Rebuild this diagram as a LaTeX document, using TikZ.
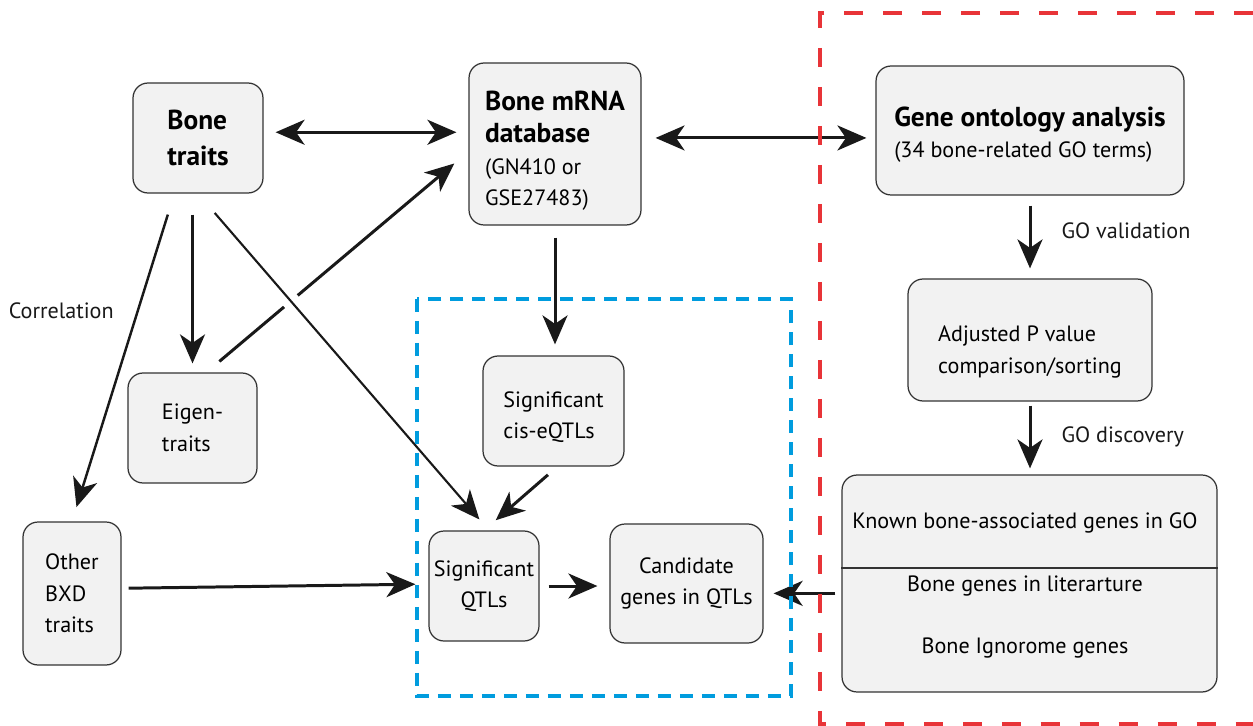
\documentclass[tikz,border=0pt]{standalone}
\usepackage{fontspec}
\setmainfont{PT Sans}
\usetikzlibrary{arrows.meta}
\definecolor{qtlblue}{RGB}{0,156,222}
\definecolor{gored}{RGB}{232,52,56}
\newcommand\bfs{\fontsize{15.6}{19}\selectfont\bfseries}
% push a first line down by adding height above it
\newcommand\lowr[2]{\raisebox{0pt}[\dimexpr\height+#1\relax]{#2}}

\begin{document}
\begin{tikzpicture}[
  x=0.02cm, y=-0.02cm,
  box/.style={draw=black!80, line width=0.7pt, fill=black!5, rounded corners=0.3cm,
    inner sep=0pt, align=left, font=\fontsize{12.6}{18}\selectfont},
  lbl/.style={inner sep=0pt, font=\fontsize{12.6}{18}\selectfont},
  tip/.style={-{Stealth[length=0.58cm, width=0.5cm, inset=0.17cm]}},
  arr/.style={line width=1.7pt, black!90, tip},
  darr/.style={arr, {Stealth[length=0.58cm, width=0.5cm, inset=0.17cm]}-{Stealth[length=0.58cm, width=0.5cm, inset=0.17cm]}}
]
\useasboundingbox (0,0) rectangle (1253,726);

\node [box, minimum width=2.6cm, minimum height=2.2cm, font=\fontsize{15.6}{20.5}\selectfont\bfseries] (bone) at (198,138) {Bone\\traits};
\node [box, minimum width=3.44cm, minimum height=3.24cm] (mrna) at (555,144) {\lowr{0.28cm}{\bfs Bone mRNA}\\{\bfs database}\\(GN410 or\\GSE27483)};
\node [box, minimum width=6.16cm, minimum height=2.58cm] (gonto) at (1030,130.5) {\lowr{0.16cm}{\bfs Gene ontology analysis}\\(34 bone-related GO terms)};
\node [box, minimum width=4.88cm, minimum height=2.44cm] (adjp) at (1030,340) {\lowr{0.48cm}{Adjusted P value}\\comparison/sorting};
\node [box, minimum width=2.58cm, minimum height=2.2cm] (eigen) at (192.5,428) {Eigen-\\traits};
\node [box, minimum width=1.96cm, minimum height=2.86cm] (other) at (72,593.5) {Other\\BXD\\traits};
\node [box, minimum width=2.82cm, minimum height=2.2cm] (cisqtl) at (553.5,411) {\lowr{0.24cm}{Significant}\\cis-eQTLs};
\node [box, minimum width=2.2cm, minimum height=2.2cm, align=center] (sigqtl) at (484,586) {Significant\\QTLs};
\node [box, minimum width=3.06cm, minimum height=2.38cm, align=center] (cand) at (686.5,583.5) {Candidate\\genes in QTLs};
\node [box, minimum width=7.5cm, minimum height=4.34cm] (known) at (1029.5,583.5) {};
\draw [black!80, line width=0.7pt] (known.west |- 0,568) -- (known.east |- 0,568);
\node [lbl] (knowngo) at (1025,523) {Known bone-associated genes in GO};
\node [lbl] (knownlit) at (1025,586) {Bone genes in literarture};
\node [lbl] (knownign) at (1025,648) {Bone Ignorome genes};

\draw [arr, shorten <=0.34cm, shorten >=0.37cm] (eigen.76) -- (mrna.185);
\draw [arr, line width=1.2pt, shorten <=0.51cm, shorten >=0.29cm,
  preaction={draw, white, line width=10pt, -}] (bone.south) -- (sigqtl.85);
\draw [darr, shorten <=0.24cm, shorten >=0.24cm] (bone.5) -- (mrna.west |- bone.5);
\draw [darr, shorten <=0.28cm, shorten >=0.18cm] (mrna.4) -- (gonto.west |- mrna.4);
\draw [arr, shorten <=0.42cm, shorten >=0.18cm] (bone.south -| eigen.north) -- (eigen.north);
\draw [arr, line width=1.4pt, shorten <=0.44cm, shorten >=0.3cm] (bone.247) -- (other.north)
  node [lbl, pos=0.356, left=0.46cm] {Correlation};
\draw [arr, shorten <=0.24cm, shorten >=0.22cm] (mrna.south) -- (mrna.south |- cisqtl.north);
\draw [arr, shorten <=0.25cm, shorten >=0.31cm] (cisqtl.274) -- (sigqtl.north);
\draw [arr, shorten <=0.14cm, shorten >=0.26cm] (other.6) -- (sigqtl.178);
\draw [arr, shorten <=0.18cm, shorten >=0.24cm] (sigqtl.east) -- (cand.west |- sigqtl.east);
\draw [arr, shorten <=0.12cm, shorten >=0.2cm] (known.183) -- (cand.east |- known.183);
\draw [arr, shorten <=0.2cm, shorten >=0.2cm] (gonto.south) -- (adjp.north)
  node [lbl, pos=0.43, right=0.6cm] {GO validation};
\draw [arr, shorten <=0.08cm, shorten >=0.12cm] (adjp.south) -- (adjp.south |- known.north)
  node [lbl, pos=0.49, right=0.6cm] {GO discovery};

\draw [qtlblue, line width=1.8pt, dash pattern=on 0.26cm off 0.18cm] (417,299) rectangle (791,696);
\draw [gored, line width=1.8pt, dash pattern=on 0.38cm off 0.4cm] (1253,13) -- (820,13) -- (820,724) -- (1253,724);
\end{tikzpicture}
\end{document}
